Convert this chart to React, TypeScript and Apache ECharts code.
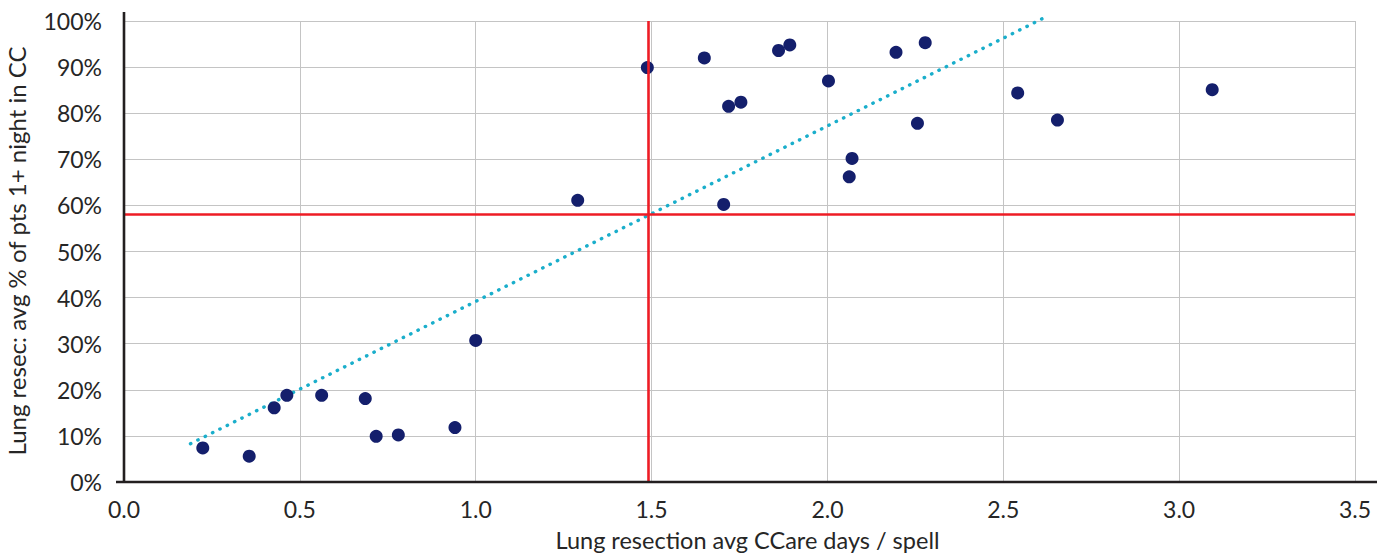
import React, { useEffect, useRef } from "react";
import * as echarts from "echarts";

// Scatter data: average critical-care days per spell (x) vs % of patients with 1+ night in CC (y)
const xValues = [
  0.224, 0.356, 0.427, 0.463, 0.562, 0.686, 0.717, 0.780, 0.941, 1.000,
  1.290, 1.488, 1.650, 1.705, 1.719, 1.754, 1.861, 1.893, 2.003, 2.062,
  2.070, 2.195, 2.256, 2.278, 2.541, 2.654, 3.094,
];
const yValues = [
  7.4, 5.6, 16.1, 18.8, 18.8, 18.1, 9.9, 10.2, 11.8, 30.7,
  61.1, 89.9, 92.0, 60.2, 81.5, 82.4, 93.6, 94.8, 87.0, 66.2,
  70.2, 93.2, 77.8, 95.3, 84.4, 78.5, 85.1,
];

// Reference (average) lines
const meanX = 1.491;
const meanY = 58.0;

// Linear trendline end points
const trendX = [0.189, 2.619];
const trendY = [8.3, 100.8];

const xTicks = { min: 0, max: 3.5, interval: 0.5 };
const yTicks = { min: 0, max: 100, interval: 10 };

const xTitle = "Lung resection avg CCare days / spell";
const yTitle = "Lung resec: avg % of pts 1+ night in CC";

const FONT = "Lato";
const TEXT = "#262626";

export default function App() {
  const ref = useRef<HTMLDivElement>(null);

  useEffect(() => {
    if (!ref.current) return;
    const chart = echarts.init(ref.current, undefined, { renderer: "svg" });

    const gridLeft = 124;
    const gridRight = 32;
    const gridTop = 21;
    const gridBottom = 74;
    const axisY = 556 - gridBottom;

    const points = xValues.map((x, i) => [x, yValues[i]]);
    const trend = trendX.map((x, i) => [x, trendY[i]]);

    chart.setOption({
      animation: false,
      backgroundColor: "#ffffff",
      textStyle: { fontFamily: FONT },
      grid: {
        left: gridLeft,
        right: gridRight,
        top: gridTop,
        bottom: gridBottom,
        containLabel: false,
        outerBoundsMode: "none",
      },
      xAxis: {
        type: "value",
        min: xTicks.min,
        max: xTicks.max,
        interval: xTicks.interval,
        axisLine: { show: false },
        axisTick: { show: false },
        splitLine: { show: true, lineStyle: { color: "#c4c4c4", width: 1 } },
        axisLabel: {
          color: TEXT,
          fontSize: 23,
          fontFamily: FONT,
          margin: 15,
          formatter: (v: number) => v.toFixed(1),
        },
        name: xTitle,
        nameLocation: "middle",
        nameGap: 46,
        nameTextStyle: { color: TEXT, fontSize: 23.5, fontFamily: FONT, padding: [0, 0, 0, 16] },
      },
      yAxis: {
        type: "value",
        min: yTicks.min,
        max: yTicks.max,
        interval: yTicks.interval,
        axisLine: { show: false },
        axisTick: { show: false },
        splitLine: { show: true, lineStyle: { color: "#c4c4c4", width: 1 } },
        axisLabel: {
          color: TEXT,
          fontSize: 23,
          fontFamily: FONT,
          margin: 22,
          formatter: "{value}%",
        },
        name: yTitle,
        nameLocation: "middle",
        nameGap: 96,
        nameRotate: 90,
        nameTextStyle: { color: TEXT, fontSize: 24, fontFamily: FONT, padding: [0, 0, 0, 1] },
      },
      series: [
        {
          type: "line",
          data: trend,
          showSymbol: false,
          symbol: "none",
          clip: false,
          silent: true,
          lineStyle: { color: "#1aaecb", width: 3.4, type: [0.4, 7.8], cap: "round" },
          z: 2,
        },
        {
          type: "scatter",
          data: points,
          symbol: "circle",
          symbolSize: 13,
          itemStyle: { color: "#141f6c", opacity: 1 },
          z: 3,
          markLine: {
            silent: true,
            symbol: "none",
            label: { show: false },
            lineStyle: { color: "#ee1c25", width: 2.6, type: "solid" },
            data: [{ xAxis: meanX }, { yAxis: meanY }],
            z: 4,
          },
        },
      ],
      graphic: [
        {
          type: "line",
          shape: { x1: gridLeft, y1: 12, x2: gridLeft, y2: axisY + 1 },
          style: { stroke: "#231f20", lineWidth: 2.6 },
          z: 10,
        },
        {
          type: "line",
          shape: { x1: 116, y1: axisY, x2: 1377, y2: axisY },
          style: { stroke: "#231f20", lineWidth: 2.6 },
          z: 10,
        },
      ],
    });

    return () => chart.dispose();
  }, []);

  return (
    <div
      ref={ref}
      style={{ position: "fixed", left: 0, top: 0, width: 1387, height: 556, background: "#fff" }}
    />
  );
}
